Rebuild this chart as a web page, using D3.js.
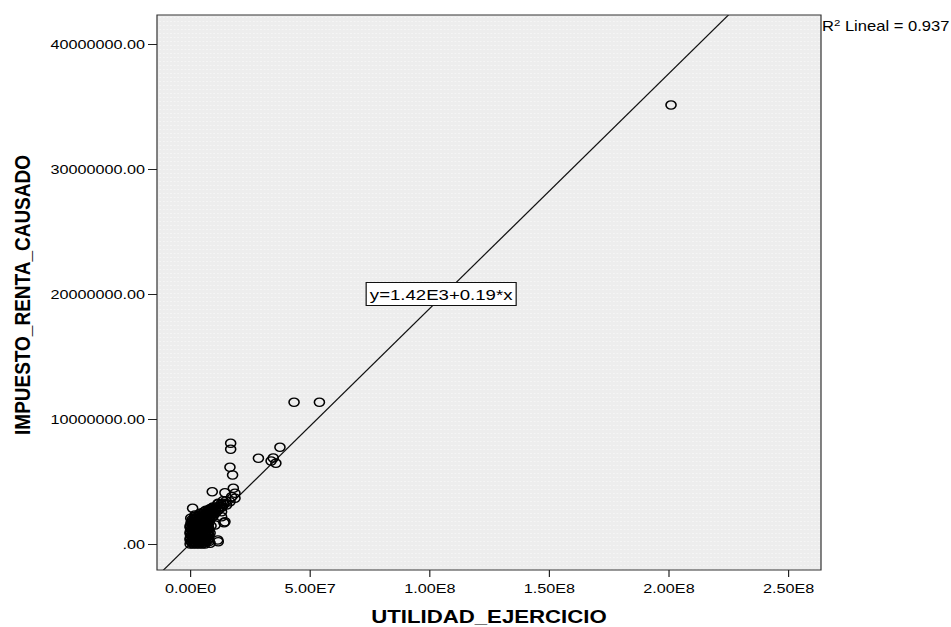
<!DOCTYPE html>
<html>
<head>
<meta charset="utf-8">
<script src="https://cdn.jsdelivr.net/npm/d3@7"></script>
<style>
  body { margin: 0; background: #fff; }
  text { font-family: "Liberation Sans", Arial, sans-serif; fill: #000; }
</style>
</head>
<body>
<script>
const outerWidth = 951;
const outerHeight = 627;
const SX = 1.2; // original picture is stretched horizontally, so draw everything in a scaled group
const frame = { left: 157, top: 15, right: 821, bottom: 570 };

// axis ranges and ticks
const xDomain = [-1.38e7, 2.638e8];
const yDomain = [-2.08e6, 4.232e7];
const xTicks = [0, 5e7, 1e8, 1.5e8, 2e8, 2.5e8];
const xTickLabels = ['0.00E0', '5.00E7', '1.00E8', '1.50E8', '2.00E8', '2.50E8'];
const yTicks = [0, 1e7, 2e7, 3e7, 4e7];
const yTickLabels = ['.00', '10000000.00', '20000000.00', '30000000.00', '40000000.00'];

// fit line
const intercepto = 1420;
const pendiente = 0.188;
const ecuacion = 'y=1.42E3+0.19*x';
const r2Texto = ' Lineal = 0.937';

// [UTILIDAD_EJERCICIO, IMPUESTO_RENTA_CAUSADO] in millions
const puntos = [
  [201.1, 35.12], [43.5, 11.34], [54.1, 11.34],
  [17.0, 8.06], [17.0, 7.58], [37.6, 7.74],
  [28.6, 6.86], [34.8, 6.88], [35.9, 6.46], [33.9, 6.64],
  [16.7, 6.14], [17.8, 5.52], [9.3, 4.18], [18.1, 4.46], [18.8, 4.06],
  [14.6, 4.10], [17.4, 3.78], [18.8, 3.66], [16.7, 3.38], [13.9, 3.26],
  [15.3, 3.12], [12.5, 2.98], [1.1, 2.86], [9.3, 2.90], [11.8, 3.26],
  [0.3, 2.06], [2.1, 2.32], [14.6, 1.78], [14.2, 1.70], [10.5, 1.52],
  [13.2, 2.18], [13.2, 2.58], [11.8, 0.18], [11.6, 0.32], [8.4, 0.06], [8.4, 0.88],
  // dense group near the origin
  [0.05, 0.00], [1.25, 0.00], [2.51, 0.00], [3.76, 0.00], [5.02, 0.00], [6.27, 0.00],
  [0.84, 0.10], [2.09, 0.10], [3.34, 0.10], [4.60, 0.10], [5.85, 0.10],
  [0.42, 0.20], [1.67, 0.20], [2.93, 0.20], [4.18, 0.20], [5.43, 0.20], [6.69, 0.20], [7.94, 0.20],
  [0.05, 0.32], [1.25, 0.32], [2.51, 0.32], [3.76, 0.32], [5.02, 0.32], [6.27, 0.32], [7.52, 0.32],
  [0.05, 0.45], [1.25, 0.45], [2.51, 0.45], [3.76, 0.45], [5.02, 0.45], [6.27, 0.45], [7.52, 0.45],
  [0.84, 0.58], [2.09, 0.58], [3.34, 0.58], [4.60, 0.58], [5.85, 0.58], [7.11, 0.58],
  [0.42, 0.70], [1.67, 0.70], [2.93, 0.70], [4.18, 0.70], [5.43, 0.70], [6.69, 0.70], [7.94, 0.70],
  [0.05, 0.82], [1.25, 0.82], [2.51, 0.82], [3.76, 0.82], [5.02, 0.82], [6.27, 0.82], [7.52, 0.82],
  [0.05, 0.95], [1.25, 0.95], [2.51, 0.95], [3.76, 0.95], [5.02, 0.95], [6.27, 0.95], [7.52, 0.95],
  [0.84, 1.08], [2.09, 1.08], [3.34, 1.08], [4.60, 1.08], [5.85, 1.08], [7.11, 1.08],
  [0.42, 1.20], [1.67, 1.20], [2.93, 1.20], [4.18, 1.20], [5.43, 1.20], [6.69, 1.20], [7.94, 1.20],
  [0.05, 1.32], [1.25, 1.32], [2.51, 1.32], [3.76, 1.32], [5.02, 1.32], [6.27, 1.32], [7.52, 1.32],
  [0.05, 1.45], [1.25, 1.45], [2.51, 1.45], [3.76, 1.45], [5.02, 1.45], [6.27, 1.45], [7.52, 1.45], [8.78, 1.45],
  [0.84, 1.58], [2.09, 1.58], [3.34, 1.58], [4.60, 1.58], [5.85, 1.58], [7.11, 1.58],
  [0.42, 1.70], [1.67, 1.70], [2.93, 1.70], [4.18, 1.70], [5.43, 1.70], [6.69, 1.70], [7.94, 1.70],
  [1.25, 1.82], [2.51, 1.82], [3.76, 1.82], [5.02, 1.82], [6.27, 1.82], [7.52, 1.82],
  [0.84, 1.95], [2.09, 1.95], [3.34, 1.95], [4.60, 1.95], [5.85, 1.95], [7.11, 1.95], [8.36, 1.95],
  [1.67, 2.08], [2.93, 2.08], [4.18, 2.08], [5.43, 2.08], [6.69, 2.08], [7.94, 2.08],
  [2.09, 2.20], [3.34, 2.20], [4.60, 2.20], [5.85, 2.20], [7.11, 2.20], [8.36, 2.20], [9.61, 2.20],
  [3.76, 2.32], [5.02, 2.32], [6.27, 2.32], [7.52, 2.32], [8.78, 2.32],
  [4.18, 2.45], [5.43, 2.45], [6.69, 2.45], [7.94, 2.45], [9.20, 2.45], [10.45, 2.45],
  [5.85, 2.58], [7.11, 2.58], [8.36, 2.58], [9.61, 2.58],
  [6.69, 2.70], [7.94, 2.70], [9.20, 2.70], [10.45, 2.70], [11.70, 2.70],
  [8.36, 2.82], [9.61, 2.82], [10.87, 2.82],
  [9.61, 2.95], [10.87, 2.95], [12.12, 2.95], [13.38, 2.95],
  [11.70, 3.20], [12.96, 3.20], [14.21, 3.20],
  [13.79, 3.45], [15.05, 3.45]
];

const xValue = d => d[0] * 1e6;
const yValue = d => d[1] * 1e6;

const svg = d3.select('body').append('svg')
    .attr('width', outerWidth)
    .attr('height', outerHeight);

const g = svg.append('g')
    .attr('transform', `scale(${SX},1)`);

// Scales (range in the unscaled group space)
const xScale = d3.scaleLinear()
  .domain(xDomain)
  .range([frame.left / SX, frame.right / SX]);
const yScale = d3.scaleLinear()
  .domain(yDomain)
  .range([frame.bottom, frame.top]);

const pw = xScale.range()[1] - xScale.range()[0];
const ph = frame.bottom - frame.top;

// dotted grey background
const defs = svg.append('defs');
const pat = defs.append('pattern')
    .attr('id', 'dots')
    .attr('patternUnits', 'userSpaceOnUse')
    .attr('width', 3).attr('height', 4);
pat.append('rect').attr('width', 3).attr('height', 4).attr('fill', '#ededed');
pat.append('rect').attr('x', 1).attr('y', 1).attr('width', 1).attr('height', 1).attr('fill', '#fafafa');

defs.append('clipPath').attr('id', 'plotClip')
  .append('rect')
    .attr('x', xScale.range()[0]).attr('y', frame.top)
    .attr('width', pw).attr('height', ph);

g.append('rect')
    .attr('x', xScale.range()[0]).attr('y', frame.top)
    .attr('width', pw).attr('height', ph)
    .attr('fill', 'url(#dots)');

// fit line
g.append('line')
    .attr('clip-path', 'url(#plotClip)')
    .attr('x1', xScale(xDomain[0]))
    .attr('y1', yScale(intercepto + pendiente * xDomain[0]))
    .attr('x2', xScale(xDomain[1]))
    .attr('y2', yScale(intercepto + pendiente * xDomain[1]))
    .attr('stroke', '#111')
    .attr('stroke-width', 1.1);

// Circles
g.selectAll('circle.data-circle')
    .data(puntos)
    .enter()
  .append('circle')
    .attr('class', 'data-circle')
    .attr('cx', d => xScale(xValue(d)))
    .attr('cy', d => yScale(yValue(d)))
    .attr('r', 4.2)
    .attr('fill', 'none')
    .attr('stroke', '#000')
    .attr('stroke-width', 1.3);

// frame
g.append('rect')
    .attr('x', xScale.range()[0]).attr('y', frame.top)
    .attr('width', pw).attr('height', ph)
    .attr('fill', 'none')
    .attr('stroke', '#333')
    .attr('stroke-width', 1);

// X-axis
const xAxis = d3.axisBottom(xScale)
  .tickValues(xTicks)
  .tickFormat((d, i) => xTickLabels[i])
  .tickSizeOuter(0)
  .tickSize(7)
  .tickPadding(6);
const xg = g.append('g')
    .attr('transform', `translate(0,${frame.bottom})`)
    .call(xAxis);
xg.select('.domain').remove();
xg.selectAll('text').attr('font-size', 13.5).attr('font-family', null);
xg.selectAll('line').attr('stroke', '#222');

// Y-axis
const yAxis = d3.axisLeft(yScale)
  .tickValues(yTicks)
  .tickFormat((d, i) => yTickLabels[i])
  .tickSizeOuter(0)
  .tickSize(7.5)
  .tickPadding(2.5);
const yg = g.append('g')
    .attr('transform', `translate(${xScale.range()[0]},0)`)
    .call(yAxis);
yg.select('.domain').remove();
yg.selectAll('text').attr('font-size', 13.5).attr('font-family', null);
yg.selectAll('line').attr('stroke', '#222');

// axis titles
g.append('text')
    .attr('x', (frame.left + frame.right) / 2 / SX)
    .attr('y', 623)
    .attr('text-anchor', 'middle')
    .attr('font-size', 18.5)
    .attr('font-weight', 'bold')
    .text('UTILIDAD_EJERCICIO');

g.append('text')
    .attr('transform', `translate(${29.5 / SX},295) rotate(-90)`)
    .attr('text-anchor', 'middle')
    .attr('font-size', 19)
    .attr('font-weight', 'bold')
    .text('IMPUESTO_RENTA_CAUSADO');

// R2 label
const r2 = g.append('text')
    .attr('x', 822 / SX)
    .attr('y', 31)
    .attr('font-size', 13.8);
r2.append('tspan').text('R');
r2.append('tspan').attr('font-size', 9.5).attr('dy', -5).text('2');
r2.append('tspan').attr('dy', 5).text(r2Texto);

// equation box
const eqX = xScale(1.05e8), eqY = yScale(2.0e7);
const eq = g.append('g').attr('transform', `translate(${eqX},${eqY})`);
eq.append('rect')
    .attr('x', -62.5).attr('y', -11.5)
    .attr('width', 125).attr('height', 23)
    .attr('fill', '#fff')
    .attr('stroke', '#111')
    .attr('stroke-width', 1);
eq.append('text')
    .attr('x', 0).attr('y', 5.5)
    .attr('text-anchor', 'middle')
    .attr('font-size', 15.5)
    .text(ecuacion);
</script>
</body>
</html>
